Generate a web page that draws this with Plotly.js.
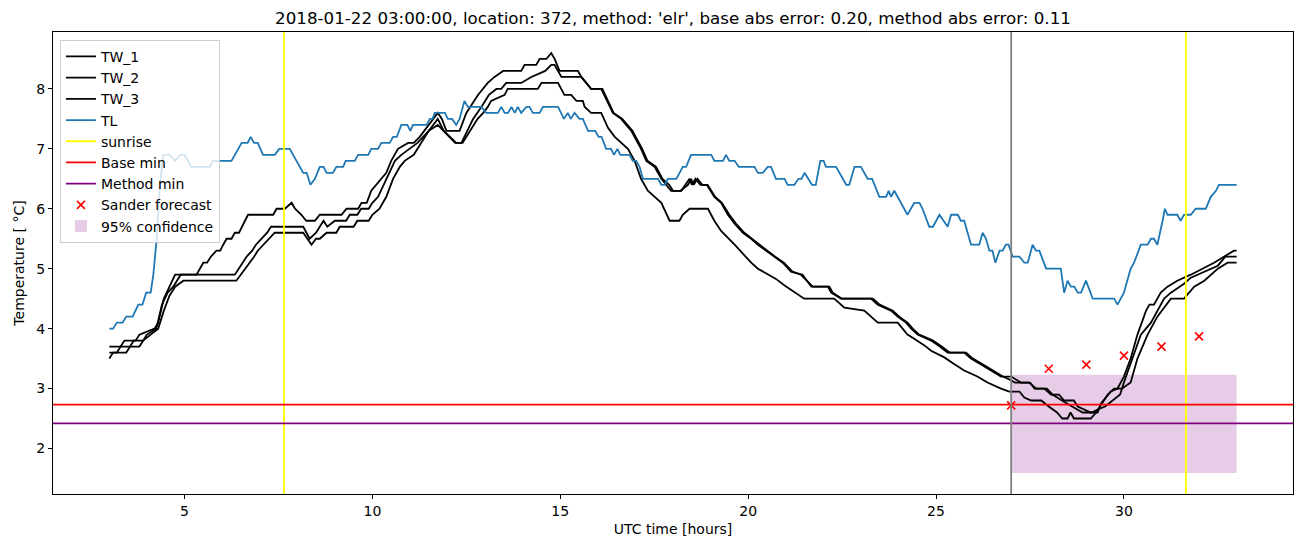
<!DOCTYPE html>
<html>
<head>
<meta charset="utf-8">
<script src="https://cdn.plot.ly/plotly-3.0.1.min.js"></script>
<style>
  html, body { margin: 0; padding: 0; background: #fff; }
  #chart { width: 1302px; height: 547px; }
</style>
</head>
<body>
<div id="chart"></div>
<script>
/* temperature trace, one night at location 372 (hours UTC, °C) */

// road sensors, [hour, temp]
const tw1 = [[3.0,3.7],[3.3,3.7],[3.4,3.8],[3.7,3.8],[3.8,3.9],[4.2,4.0],[4.3,4.1],[4.45,4.5],[4.6,4.7],[4.75,4.9],[5.32,4.9],[5.41,5.0],[5.5,5.1],[5.6,5.1],[5.7,5.2],[5.85,5.3],[5.95,5.3],[6.03,5.4],[6.12,5.5],[6.25,5.5],[6.34,5.6],[6.45,5.6],[6.69,5.9],[7.36,5.9],[7.45,6.0],[7.67,6.0],[7.85,6.1],[7.94,6.0],[8.11,5.9],[8.24,5.8],[8.47,5.8],[8.6,5.9],[9.18,5.9],[9.31,6.0],[9.62,6.0],[9.71,6.1],[9.85,6.1],[9.97,6.3],[10.1,6.4],[10.24,6.5],[10.37,6.6],[10.5,6.8],[10.68,7.0],[10.95,7.1],[11.1,7.1],[11.26,7.2],[11.5,7.4],[11.74,7.6],[11.85,7.5],[11.97,7.3],[12.32,7.3],[12.5,7.6],[12.81,7.9],[12.94,8.0],[13.07,8.1],[13.25,8.2],[13.48,8.3],[13.96,8.3],[14.05,8.4],[14.36,8.4],[14.45,8.5],[14.63,8.5],[14.76,8.6],[14.85,8.5],[14.98,8.3],[15.47,8.3],[15.56,8.2],[15.69,8.1],[15.82,8.0],[16.09,8.0],[16.4,7.6],[16.62,7.5],[16.89,7.3],[17.15,7.0],[17.29,6.8],[17.51,6.7],[17.69,6.5],[17.95,6.3],[18.22,6.3],[18.44,6.5],[18.5,6.4],[18.6,6.5],[18.73,6.4],[18.9,6.4],[19.1,6.2],[19.28,6.1],[19.46,5.9],[19.64,5.75],[19.86,5.6],[20.08,5.5],[20.26,5.4],[20.48,5.3],[20.7,5.2],[20.92,5.1],[21.14,4.95],[21.45,4.9],[21.68,4.7],[22.12,4.7],[22.21,4.6],[22.47,4.5],[23.27,4.5],[23.45,4.4],[23.8,4.3],[23.98,4.2],[24.2,4.1],[24.34,4.0],[24.51,3.9],[24.69,3.85],[24.87,3.8],[25.1,3.7],[25.31,3.6],[25.75,3.6],[25.93,3.5],[26.2,3.4],[26.46,3.3],[26.73,3.2],[27.0,3.2],[27.26,3.1],[27.48,3.1],[27.66,3.0],[27.88,3.0],[28.06,2.9],[28.27,2.9],[28.41,2.8],[28.67,2.8],[28.77,2.7],[29.12,2.6],[29.3,2.6],[29.39,2.75],[29.52,2.85],[29.65,2.95],[29.83,3.0],[30.0,3.2],[30.18,3.5],[30.36,3.9],[30.59,4.3],[30.68,4.4],[30.8,4.4],[30.98,4.6],[31.16,4.7],[31.42,4.8],[31.78,4.9],[32.1,5.0],[32.4,5.1],[32.66,5.2],[32.93,5.3],[33.0,5.3]];

const tw2 = [[3.0,3.6],[3.2,3.6],[3.3,3.7],[3.55,3.7],[3.65,3.8],[3.9,3.8],[4.0,3.9],[4.25,4.0],[4.4,4.4],[4.55,4.6],[4.7,4.7],[4.9,4.9],[6.34,4.9],[6.45,5.0],[6.55,5.1],[6.65,5.2],[6.8,5.3],[6.9,5.4],[7.05,5.5],[7.2,5.6],[7.3,5.7],[8.16,5.7],[8.33,5.5],[8.5,5.6],[8.7,5.8],[8.8,5.7],[9.0,5.8],[9.3,5.8],[9.4,5.9],[9.6,5.9],[9.7,6.0],[9.9,6.0],[10.0,6.1],[10.15,6.2],[10.3,6.4],[10.45,6.6],[10.6,6.8],[10.77,6.9],[11.0,7.0],[11.2,7.1],[11.5,7.3],[11.74,7.5],[11.9,7.3],[12.06,7.2],[12.23,7.1],[12.37,7.1],[12.68,7.5],[12.9,7.7],[13.1,7.9],[13.3,8.0],[13.43,8.0],[13.56,8.1],[13.96,8.1],[14.23,8.2],[14.6,8.3],[14.76,8.4],[14.85,8.4],[15.03,8.2],[15.56,8.2],[15.69,8.1],[15.82,8.0],[16.12,8.0],[16.42,7.6],[16.65,7.5],[16.92,7.3],[17.18,7.0],[17.32,6.8],[17.55,6.7],[17.72,6.5],[17.9,6.4],[18.0,6.3],[18.2,6.3],[18.4,6.4],[18.48,6.5],[18.55,6.4],[18.65,6.5],[18.78,6.4],[18.92,6.4],[19.12,6.2],[19.3,6.1],[19.5,5.9],[19.68,5.75],[19.9,5.6],[20.1,5.5],[20.3,5.4],[20.5,5.3],[20.72,5.2],[20.95,5.1],[21.18,4.95],[21.4,4.9],[21.72,4.7],[22.16,4.7],[22.25,4.6],[22.5,4.5],[23.32,4.5],[23.5,4.4],[23.85,4.3],[24.02,4.2],[24.24,4.1],[24.38,4.0],[24.55,3.9],[24.74,3.85],[24.92,3.8],[25.15,3.7],[25.36,3.6],[25.8,3.6],[25.98,3.5],[26.25,3.4],[26.5,3.3],[26.78,3.2],[26.95,3.15],[27.1,3.1],[27.5,3.1],[27.62,3.0],[27.95,3.0],[28.1,2.9],[28.35,2.8],[28.62,2.7],[28.9,2.6],[29.15,2.6],[29.3,2.65],[29.5,2.7],[29.7,2.8],[29.9,2.9],[30.0,3.1],[30.22,3.5],[30.45,3.9],[30.72,4.1],[30.89,4.3],[31.07,4.5],[31.25,4.6],[31.6,4.75],[31.78,4.85],[32.14,4.95],[32.5,5.05],[32.7,5.2],[33.0,5.2]];

const tw3 = [[3.0,3.5],[3.1,3.6],[3.45,3.6],[3.55,3.7],[3.8,3.7],[3.9,3.8],[4.1,3.9],[4.3,4.0],[4.45,4.3],[4.6,4.55],[4.75,4.7],[4.97,4.8],[6.38,4.8],[6.5,4.9],[6.6,5.0],[6.72,5.1],[6.85,5.2],[6.95,5.3],[7.1,5.4],[7.25,5.5],[7.4,5.6],[8.16,5.6],[8.38,5.4],[8.5,5.5],[8.6,5.5],[8.78,5.6],[9.04,5.6],[9.13,5.7],[9.5,5.7],[9.6,5.8],[9.9,5.8],[10.0,5.9],[10.19,6.0],[10.37,6.2],[10.55,6.5],[10.73,6.7],[10.86,6.8],[11.1,6.9],[11.3,7.1],[11.5,7.3],[11.74,7.4],[11.9,7.3],[12.06,7.2],[12.2,7.1],[12.4,7.1],[12.6,7.3],[12.8,7.5],[12.95,7.6],[13.07,7.7],[13.16,7.8],[13.52,7.9],[13.6,8.0],[14.4,8.0],[14.5,8.1],[14.94,8.1],[15.11,7.9],[15.29,7.9],[15.43,7.8],[15.6,7.8],[15.65,7.7],[15.82,7.6],[16.09,7.6],[16.27,7.35],[16.45,7.2],[16.62,7.1],[16.8,7.0],[16.98,6.8],[17.15,6.5],[17.33,6.3],[17.51,6.2],[17.69,6.1],[17.91,5.8],[18.17,5.8],[18.26,5.9],[18.44,6.0],[18.93,6.0],[19.1,5.8],[19.28,5.63],[19.46,5.52],[19.64,5.4],[19.86,5.25],[20.08,5.1],[20.26,5.0],[20.52,4.9],[20.74,4.83],[20.97,4.72],[21.19,4.63],[21.49,4.5],[22.29,4.5],[22.56,4.35],[23.09,4.3],[23.27,4.2],[23.45,4.1],[23.98,4.1],[24.24,3.9],[24.42,3.83],[24.69,3.72],[24.87,3.63],[25.22,3.52],[25.48,3.41],[25.75,3.3],[26.1,3.2],[26.37,3.1],[26.73,3.0],[26.95,2.95],[27.22,2.95],[27.35,2.85],[27.53,2.8],[27.8,2.8],[28.0,2.7],[28.22,2.6],[28.36,2.5],[28.5,2.5],[28.58,2.6],[28.67,2.5],[29.12,2.5],[29.26,2.6],[29.57,2.9],[29.74,3.0],[29.95,3.0],[30.18,3.1],[30.36,3.5],[30.63,3.9],[30.89,4.2],[31.12,4.4],[31.25,4.5],[31.6,4.5],[31.87,4.7],[32.14,4.8],[32.5,5.0],[32.76,5.1],[33.0,5.1]];

// air temperature
const tl = [[3.0,4.0],[3.1,4.0],[3.2,4.1],[3.35,4.1],[3.45,4.2],[3.62,4.2],[3.77,4.4],[3.88,4.4],[3.98,4.6],[4.1,4.6],[4.17,4.9],[4.26,5.5],[4.34,6.35],[4.43,6.9],[4.6,6.9],[4.75,6.8],[4.88,6.9],[5.0,6.9],[5.18,6.7],[5.67,6.7],[5.76,6.8],[6.25,6.8],[6.52,7.1],[6.68,7.1],[6.76,7.2],[6.85,7.1],[6.95,7.1],[7.09,6.9],[7.4,6.9],[7.52,7.0],[7.8,7.0],[8.16,6.6],[8.25,6.6],[8.35,6.4],[8.47,6.5],[8.6,6.7],[8.7,6.7],[8.78,6.6],[8.95,6.6],[9.04,6.7],[9.22,6.7],[9.29,6.8],[9.53,6.8],[9.62,6.9],[9.89,6.9],[9.97,7.0],[10.15,7.0],[10.24,7.1],[10.46,7.1],[10.55,7.2],[10.65,7.2],[10.77,7.4],[10.93,7.4],[11.01,7.3],[11.08,7.4],[11.44,7.4],[11.53,7.5],[11.6,7.5],[11.66,7.6],[11.93,7.6],[12.01,7.5],[12.12,7.5],[12.23,7.4],[12.32,7.5],[12.45,7.8],[12.54,7.7],[12.9,7.7],[13.03,7.6],[13.34,7.6],[13.43,7.7],[13.52,7.6],[13.61,7.6],[13.7,7.7],[13.79,7.6],[13.87,7.7],[13.96,7.6],[14.1,7.7],[14.18,7.7],[14.27,7.6],[14.45,7.6],[14.54,7.7],[14.94,7.7],[15.1,7.5],[15.2,7.6],[15.28,7.5],[15.38,7.6],[15.51,7.5],[15.6,7.5],[15.74,7.3],[15.93,7.3],[16.02,7.2],[16.1,7.2],[16.22,7.0],[16.35,7.0],[16.43,6.9],[16.52,7.0],[16.6,6.9],[16.84,6.9],[16.93,6.8],[17.02,6.8],[17.11,6.7],[17.2,6.5],[17.6,6.5],[17.69,6.4],[17.78,6.4],[17.86,6.5],[18.09,6.5],[18.18,6.6],[18.26,6.7],[18.35,6.7],[18.48,6.9],[19.02,6.9],[19.1,6.8],[19.33,6.8],[19.41,6.9],[19.5,6.8],[19.64,6.8],[19.75,6.7],[20.17,6.7],[20.26,6.6],[20.39,6.6],[20.52,6.7],[20.61,6.7],[20.74,6.5],[20.97,6.5],[21.05,6.4],[21.23,6.4],[21.34,6.5],[21.42,6.5],[21.5,6.6],[21.6,6.5],[21.7,6.4],[21.8,6.4],[21.92,6.8],[22.01,6.8],[22.07,6.7],[22.34,6.7],[22.61,6.4],[22.69,6.4],[22.83,6.7],[23.0,6.7],[23.18,6.5],[23.3,6.5],[23.49,6.2],[23.67,6.2],[23.74,6.3],[23.8,6.2],[23.89,6.3],[24.24,5.9],[24.42,6.1],[24.56,6.1],[24.64,6.0],[24.82,5.7],[24.92,5.7],[25.09,5.9],[25.31,5.7],[25.4,5.9],[25.58,5.9],[25.66,5.8],[25.75,5.8],[25.93,5.4],[26.15,5.4],[26.24,5.6],[26.33,5.5],[26.42,5.3],[26.5,5.3],[26.58,5.1],[26.69,5.3],[26.77,5.3],[26.86,5.4],[26.93,5.4],[27.04,5.2],[27.22,5.2],[27.35,5.1],[27.44,5.1],[27.57,5.4],[27.66,5.3],[27.75,5.3],[27.93,5.0],[28.32,5.0],[28.41,4.6],[28.5,4.8],[28.59,4.7],[28.68,4.7],[28.77,4.6],[28.86,4.6],[28.99,4.8],[29.17,4.5],[29.74,4.5],[29.83,4.4],[30.0,4.6],[30.18,5.0],[30.27,5.1],[30.45,5.4],[30.63,5.4],[30.72,5.5],[30.8,5.5],[30.89,5.4],[31.03,5.8],[31.09,6.0],[31.16,5.9],[31.42,5.9],[31.51,5.8],[31.6,5.9],[31.78,5.9],[31.91,6.0],[32.18,6.0],[32.31,6.2],[32.45,6.3],[32.53,6.4],[33.0,6.4]];

// forecast hours + values
const sanderHours = [27, 28, 29, 30, 31, 32];
const sanderTemp  = [2.72, 3.33, 3.40, 3.55, 3.70, 3.87];

const sunriseHours = [7.65, 31.65];
const forecastStart = 27;
const baseMin = 2.73;
const methodMin = 2.42;
const confHours = [27, 33];
const confTemp  = [1.59, 3.23];   // lower, upper

const TITLE = "2018-01-22 03:00:00, location: 372, method: 'elr', base abs error: 0.20, method abs error: 0.11";

// ─── traces ───
const line = (pts, name, color, rank) => ({
  x: pts.map(p => p[0]), y: pts.map(p => p[1]),
  mode: 'lines', name, legendrank: rank,
  line: { color, width: 1.8 }, hoverinfo: 'skip'
});

const traces = [
  line(tw1, 'TW_1', '#000000', 1),
  line(tw2, 'TW_2', '#000000', 2),
  line(tw3, 'TW_3', '#000000', 3),
  line(tl, 'TL', '#1f77b4', 4),
  {
    x: sanderHours, y: sanderTemp, mode: 'markers', name: 'Sander forecast', legendrank: 8,
    marker: { symbol: 'x-thin', size: 8, color: 'red', line: { color: 'red', width: 1.6 } }
  }
];

// ─── shapes (vlines / hlines / span) ───
const shapes = [];
sunriseHours.forEach((h, i) => shapes.push({
  type: 'line', xref: 'x', yref: 'paper', x0: h, x1: h, y0: 0, y1: 1,
  line: { color: '#ffff00', width: 1.8 },
  name: 'sunrise', showlegend: i === 0, legendrank: 5
}));
shapes.push({
  type: 'line', xref: 'paper', yref: 'y', x0: 0, x1: 1, y0: baseMin, y1: baseMin,
  line: { color: '#ff0000', width: 1.8 }, name: 'Base min', showlegend: true, legendrank: 6
});
shapes.push({
  type: 'line', xref: 'paper', yref: 'y', x0: 0, x1: 1, y0: methodMin, y1: methodMin,
  line: { color: '#800080', width: 1.8 }, name: 'Method min', showlegend: true, legendrank: 7
});
shapes.push({
  type: 'line', xref: 'x', yref: 'paper', x0: forecastStart, x1: forecastStart, y0: 0, y1: 1,
  line: { color: '#808080', width: 1.8 }, showlegend: false
});
shapes.push({
  type: 'rect', xref: 'x', yref: 'y', layer: 'below',
  x0: confHours[0], x1: confHours[1], y0: confTemp[0], y1: confTemp[1],
  fillcolor: 'rgba(128,0,128,0.2)', line: { width: 0 },
  name: '95% confidence', showlegend: true, legendrank: 9
});

const axisBase = {
  showline: true, mirror: true, linecolor: '#000', linewidth: 1,
  ticks: 'outside', ticklen: 4, tickcolor: '#000', tickwidth: 1,
  showgrid: false, zeroline: false,
  tickfont: { size: 14, color: '#000' }
};

const layout = {
  width: 1302, height: 547,
  margin: { l: 53, r: 9, t: 32, b: 53 },
  paper_bgcolor: '#fff', plot_bgcolor: '#fff',
  font: { family: 'DejaVu Sans, sans-serif', size: 14, color: '#000' },
  title: {
    text: TITLE, font: { size: 16.7, color: '#000' },
    xref: 'paper', x: 0.5, xanchor: 'center',
    yref: 'container', y: 1 - 18 / 547, yanchor: 'middle'
  },
  xaxis: {
    ...axisBase, range: [1.5, 34.5],
    tickvals: [5, 10, 15, 20, 25, 30],
    title: { text: 'UTC time [hours]', font: { size: 14 }, standoff: 6 }
  },
  yaxis: {
    ...axisBase, range: [1.24, 8.95],
    tickvals: [2, 3, 4, 5, 6, 7, 8],
    title: { text: 'Temperature [ °C]', font: { size: 14 }, standoff: 8 }
  },
  showlegend: true,
  legend: {
    x: 0.0056, y: 0.983, xanchor: 'left', yanchor: 'top',
    bgcolor: 'rgba(255,255,255,0.8)', bordercolor: '#cccccc', borderwidth: 1,
    font: { size: 14, color: '#000' }, traceorder: 'normal'
  },
  shapes
};

Plotly.newPlot('chart', traces, layout, { staticPlot: true, displayModeBar: false });
</script>
</body>
</html>
